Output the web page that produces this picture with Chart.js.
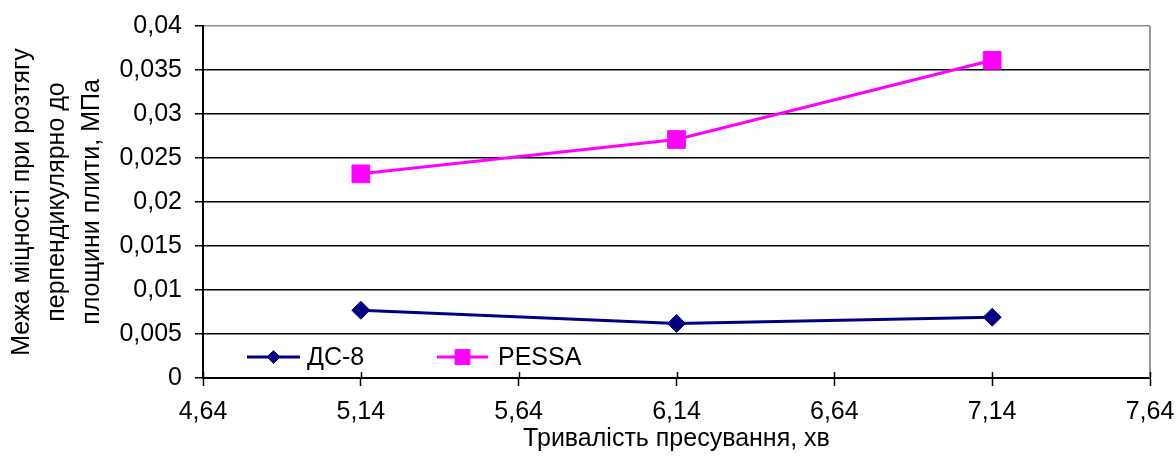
<!DOCTYPE html>
<html lang="uk">
<head>
<meta charset="utf-8">
<title>Межа міцності при розтягу</title>
<script src="https://cdn.jsdelivr.net/npm/chart.js@4/dist/chart.umd.min.js"></script>
<style>
  html, body { margin: 0; padding: 0; background: #fff; }
  #wrap { width: 1176px; height: 457px; }
</style>
</head>
<body>
<div id="wrap"><canvas id="c" width="1176" height="457"></canvas></div>
<script>
// Pressing time, min
const pressTime = [5.14, 6.14, 7.14];
// Tensile strength perpendicular to the board plane, MPa
const ds8 = [0.0077, 0.0062, 0.0069];
const pessa = [0.0232, 0.0271, 0.0361];

const xTickValues = [4.64, 5.14, 5.64, 6.14, 6.64, 7.14, 7.64];
const xTickLabels = ['4,64', '5,14', '5,64', '6,14', '6,64', '7,14', '7,64'];
const yTickValues = [0, 0.005, 0.01, 0.015, 0.02, 0.025, 0.03, 0.035, 0.04];
const yTickLabels = ['0', '0,005', '0,01', '0,015', '0,02', '0,025', '0,03', '0,035', '0,04'];

const seriesNames = ['ДС-8', 'PESSA'];
const FONT = '"Liberation Sans", Arial, sans-serif';

function toPoints(xs, ys) {
  return xs.map((x, i) => ({ x: x, y: ys[i] }));
}

// Gray frame on the right, inner half of x tick marks, and the in-plot legend
const framePlugin = {
  id: 'frame',
  afterDraw(chart) {
    const { ctx, chartArea: a, scales } = chart;
    ctx.save();
    ctx.strokeStyle = '#9a9a9a';
    ctx.lineWidth = 2;
    ctx.beginPath();
    ctx.moveTo(a.right, a.top);
    ctx.lineTo(a.right, a.bottom);
    ctx.stroke();

    ctx.strokeStyle = '#000';
    ctx.lineWidth = 1.5;
    scales.x.ticks.forEach(t => {
      const px = Math.round(scales.x.getPixelForValue(t.value)) + 0.5;
      ctx.beginPath();
      ctx.moveTo(px, a.bottom - 6);
      ctx.lineTo(px, a.bottom);
      ctx.stroke();
    });

    // legend
    const ly = a.bottom - 21;
    const items = [
      { ds: chart.data.datasets[0], x0: a.left + 44, x1: a.left + 97, r: 6.5, tx: a.left + 104 },
      { ds: chart.data.datasets[1], x0: a.left + 234, x1: a.left + 285, r: 10.5, tx: a.left + 295 }
    ];
    items.forEach(it => {
      ctx.strokeStyle = it.ds.borderColor;
      ctx.lineWidth = 3;
      ctx.beginPath();
      ctx.moveTo(it.x0, ly);
      ctx.lineTo(it.x1, ly);
      ctx.stroke();
      ctx.fillStyle = it.ds.pointBackgroundColor;
      ctx.strokeStyle = it.ds.pointBorderColor;
      ctx.lineWidth = 1;
      Chart.helpers.drawPoint(ctx, { pointStyle: it.ds.pointStyle, radius: it.r, borderWidth: 1, rotation: 0 }, (it.x0 + it.x1) / 2, ly);
      ctx.fillStyle = '#000';
      ctx.font = '25px ' + FONT;
      ctx.textAlign = 'left';
      ctx.textBaseline = 'middle';
      ctx.fillText(it.ds.label, it.tx, ly + 1);
    });
    ctx.restore();
  }
};

new Chart(document.getElementById('c'), {
  type: 'line',
  data: {
    datasets: [
      {
        label: seriesNames[0],
        data: toPoints(pressTime, ds8),
        borderColor: '#000080',
        backgroundColor: '#000080',
        pointBackgroundColor: '#000080',
        pointBorderColor: '#000080',
        borderWidth: 3,
        pointStyle: 'rectRot',
        pointRadius: 9,
        pointBorderWidth: 1,
        tension: 0
      },
      {
        label: seriesNames[1],
        data: toPoints(pressTime, pessa),
        borderColor: '#ff00ff',
        backgroundColor: '#ff00ff',
        pointBackgroundColor: '#ff00ff',
        pointBorderColor: '#ff00ff',
        borderWidth: 3,
        pointStyle: 'rect',
        pointRadius: 12.5,
        pointBorderWidth: 1,
        tension: 0
      }
    ]
  },
  options: {
    responsive: false,
    animation: false,
    layout: { padding: { top: 26, right: 26, left: 0, bottom: 0 } },
    plugins: {
      legend: { display: false },
      tooltip: { enabled: false }
    },
    scales: {
      x: {
        type: 'linear',
        min: 4.64,
        max: 7.64,
        afterBuildTicks(scale) { scale.ticks = xTickValues.map(v => ({ value: v })); },
        afterFit(scale) {
          scale.height = 79;
          scale.paddingLeft = 0;
          scale.paddingRight = 0;
        },
        ticks: {
          color: '#000',
          font: { family: FONT, size: 25 },
          padding: 11,
          maxRotation: 0,
          autoSkip: false,
          callback: (v, i) => xTickLabels[i]
        },
        grid: {
          drawOnChartArea: false,
          drawTicks: true,
          tickLength: 8,
          tickColor: '#000',
          tickWidth: 1.5
        },
        border: { display: true, color: '#000', width: 2 },
        title: {
          display: true,
          text: 'Тривалість пресування, хв',
          color: '#000',
          font: { family: FONT, size: 25, lineHeight: 1.2 },
          padding: { top: 0, bottom: 3 }
        }
      },
      y: {
        type: 'linear',
        min: 0,
        max: 0.04,
        afterBuildTicks(scale) { scale.ticks = yTickValues.map(v => ({ value: v })); },
        afterFit(scale) {
          scale.width = 203;
          scale.paddingTop = 0;
          scale.paddingBottom = 0;
        },
        ticks: {
          color: '#000',
          font: { family: FONT, size: 25 },
          padding: 13,
          autoSkip: false,
          callback: (v, i) => yTickLabels[i]
        },
        grid: {
          drawOnChartArea: true,
          drawTicks: true,
          tickLength: 8,
          color: ctx => (ctx.tick && ctx.tick.value === 0.04 ? '#8c8c8c' : '#000'),
          tickColor: '#000',
          lineWidth: 1.5,
          tickWidth: 1.5
        },
        border: { display: true, color: '#000', width: 2 },
        title: {
          display: true,
          text: ['Межа міцності при розтягу', 'перпендикулярно до', 'площини плити, МПа'],
          color: '#000',
          font: { family: FONT, size: 25, lineHeight: 1.4 },
          padding: { top: 5, bottom: 0 }
        }
      }
    }
  },
  plugins: [framePlugin]
});
</script>
</body>
</html>
